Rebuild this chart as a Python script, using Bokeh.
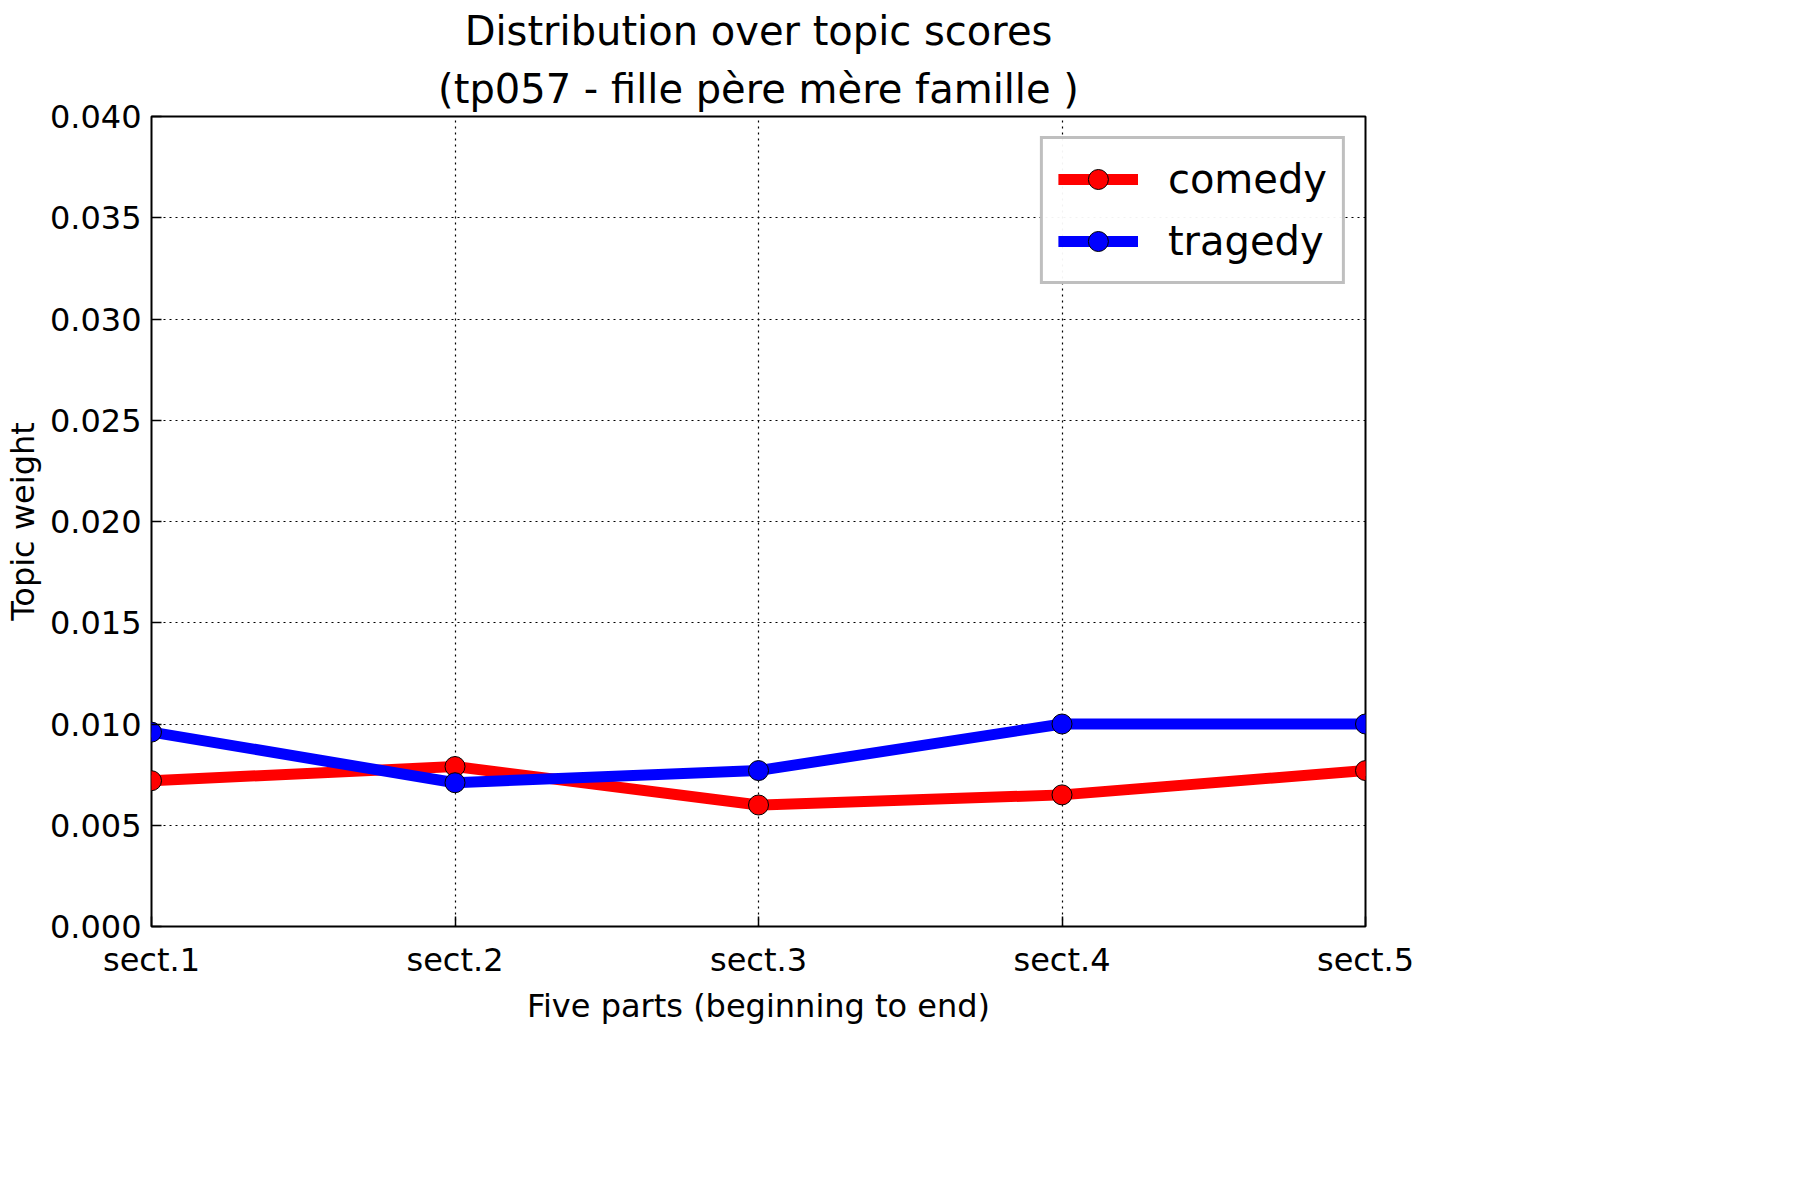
from bokeh.plotting import figure
from bokeh.models import Range1d, Legend, LegendItem, FixedTicker, Title
from bokeh.embed import file_html
from bokeh.resources import INLINE

sections = [1, 2, 3, 4, 5]
section_labels = ['sect.1', 'sect.2', 'sect.3', 'sect.4', 'sect.5']
comedy = [0.0072, 0.0079, 0.0060, 0.0065, 0.0077]
tragedy = [0.0096, 0.0071, 0.0077, 0.0100, 0.0100]
y_ticks = [0.0, 0.005, 0.010, 0.015, 0.020, 0.025, 0.030, 0.035, 0.040]

FONT = 'DejaVu Sans'

p = figure(frame_width=1214, frame_height=810, output_backend='svg', toolbar_location=None,
           x_range=Range1d(1, 5), y_range=Range1d(0, 0.04),
           min_border_left=60, min_border_right=150, min_border_top=0, min_border_bottom=20)
p.title = None
p.add_layout(Title(text='(tp057 - fille père mère famille )', align='center',
                   text_font=FONT, text_font_size='30pt', text_font_style='normal',
                   text_color='black'), 'above')
p.add_layout(Title(text='Distribution over topic scores', align='center',
                   text_font=FONT, text_font_size='30pt', text_font_style='normal',
                   text_color='black'), 'above')

p.outline_line_color = 'black'
p.outline_line_width = 2
p.background_fill_color = 'white'
p.border_fill_color = 'white'

for g in (p.xgrid, p.ygrid):
    g.grid_line_color = 'black'
    g.grid_line_dash = '2 4'
    g.grid_line_width = 1.2
p.xgrid.ticker = FixedTicker(ticks=sections)
p.ygrid.ticker = FixedTicker(ticks=y_ticks)

xa = p.xaxis[0]
xa.ticker = FixedTicker(ticks=sections)
xa.major_label_overrides = {s: l for s, l in zip(sections, section_labels)}
xa.axis_label = 'Five parts (beginning to end)'
xa.major_label_standoff = 14
ya = p.yaxis[0]
ya.ticker = FixedTicker(ticks=y_ticks)
ya.major_label_overrides = {t: f'{t:.3f}' for t in y_ticks}
ya.axis_label = 'Topic weight'
ya.major_label_standoff = 10
for ax in (xa, ya):
    ax.axis_line_color = None
    ax.major_tick_in = 10
    ax.major_tick_out = 0
    ax.major_tick_line_width = 1.5
    ax.minor_tick_line_color = None
    ax.major_label_text_font = FONT
    ax.major_label_text_font_size = '24pt'
    ax.major_label_text_color = 'black'
    ax.axis_label_text_font = FONT
    ax.axis_label_text_font_size = '24pt'
    ax.axis_label_text_font_style = 'normal'
    ax.axis_label_text_color = 'black'

items = []
for name, vals, col in (('comedy', comedy, 'red'), ('tragedy', tragedy, 'blue')):
    l = p.line(sections, vals, line_color=col, line_width=11)
    c = p.scatter(sections, vals, size=20, fill_color=col, line_color='black', line_width=1)
    items.append(LegendItem(label=name, renderers=[l, c]))

legend = Legend(items=items, location='top_right', label_text_font=FONT,
                label_text_font_size='30pt', label_text_color='black',
                border_line_color='gray', border_line_width=3,
                glyph_width=80, glyph_height=50, padding=15, spacing=12, margin=20,
                label_standoff=30)
p.add_layout(legend)

open('out.html', 'w').write(file_html(p, INLINE))
